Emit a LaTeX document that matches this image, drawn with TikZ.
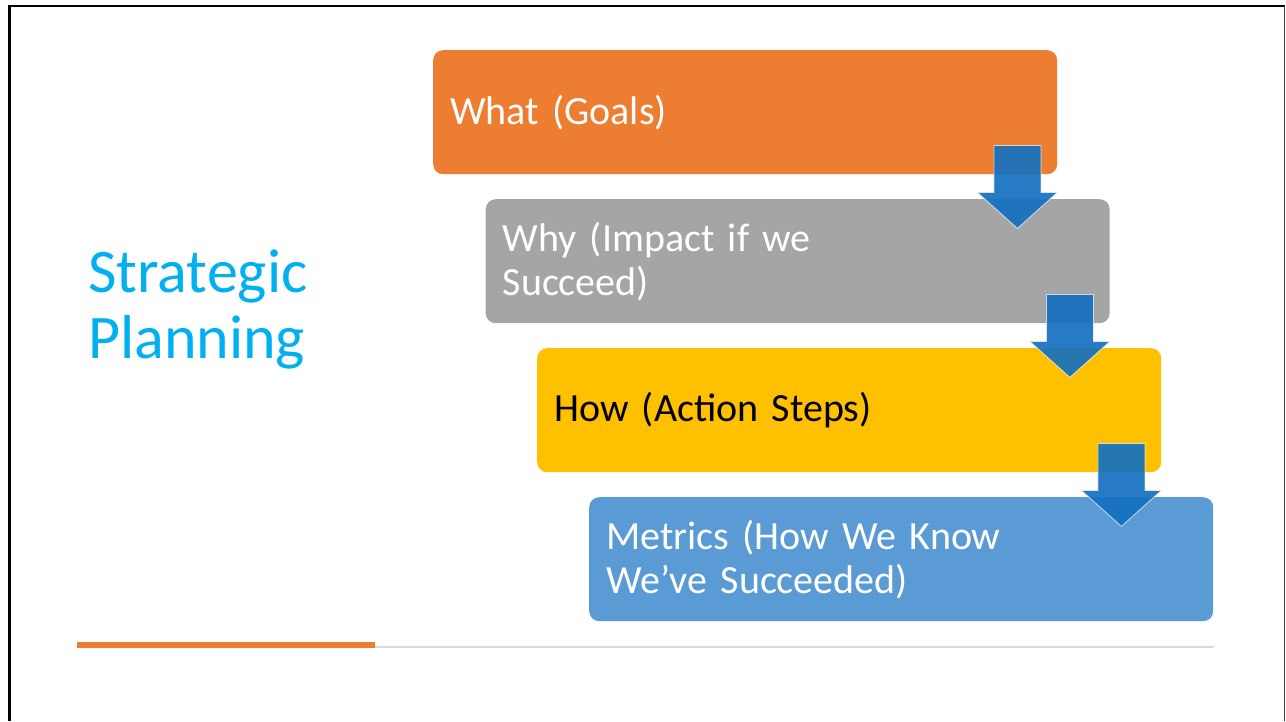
\documentclass[tikz,border=0pt]{standalone}
\usepackage{fontspec}
\setmainfont{Carlito}
\usepackage{tikz}
\usetikzlibrary{calc}

\definecolor{planorange}{RGB}{237,125,49}
\definecolor{plangray}{RGB}{165,165,165}
\definecolor{planyellow}{RGB}{255,192,0}
\definecolor{planblue}{RGB}{91,155,213}
\definecolor{arrowblue}{RGB}{20,112,192}
\definecolor{titlecyan}{RGB}{0,176,240}
\definecolor{rulegray}{RGB}{217,217,217}

\begin{document}
\begin{tikzpicture}[x=1pt,y=-1pt,
  stepbox/.style={anchor=north west, rounded corners=10pt, minimum width=624pt,
    minimum height=124pt, text width=590pt, inner xsep=17pt, inner ysep=0pt,
    align=left, font=\fontsize{40}{44}\selectfont, text=white},
  downarrow/.style={fill=arrowblue, fill opacity=0.92, draw=white, draw opacity=0.7,
    line width=0.8pt}]
\useasboundingbox (0,0) rectangle (1286,721);
\fill[white] (0,0) rectangle (1286,721);

% frame
\draw[line width=3pt] (9.5,5) -- (9.5,721);
\draw[line width=2pt] (8,6) -- (1285,6);
\draw[line width=1.2pt, black!75] (1284.4,6) -- (1284.4,721);

% title
\node[anchor=base west, inner sep=0pt, align=left, text=titlecyan,
  font=\fontsize{62}{66}\selectfont] (title) at (88,358) {Strategic\\Planning};

% steps
\node[stepbox, fill=planorange] (what) at (433,50) {What (Goals)};
\node[stepbox, fill=plangray] (why) at (485.5,199) {Why (Impact if we\\Succeed)};
\node[stepbox, fill=planyellow, text=black] (how) at (537,348) {How (Action Steps)};
\node[stepbox, fill=planblue] (metrics) at (589,497) {Metrics (How We Know\\We’ve Succeeded)};

\foreach \from/\to in {what/why, why/how, how/metrics}
\draw[downarrow] ($(\from.south east)+(-63.5,-29)$) -- ($(\from.south east)+(-16.5,-29)$)
  -- ($(\from.south east)+(-16.5,18)$) -- ($(\from.south east)+(0,18)$)
  -- ($(\from.south east)+(-40,54)$) -- ($(\from.south east)+(-80,18)$)
  -- ($(\from.south east)+(-63.5,18)$) -- cycle;

% rule
\draw[rulegray, line width=2pt] (375,647) -- (1214,647);
\draw[planorange, line width=6pt] (77,645) -- (375,645);

\end{tikzpicture}
\end{document}
